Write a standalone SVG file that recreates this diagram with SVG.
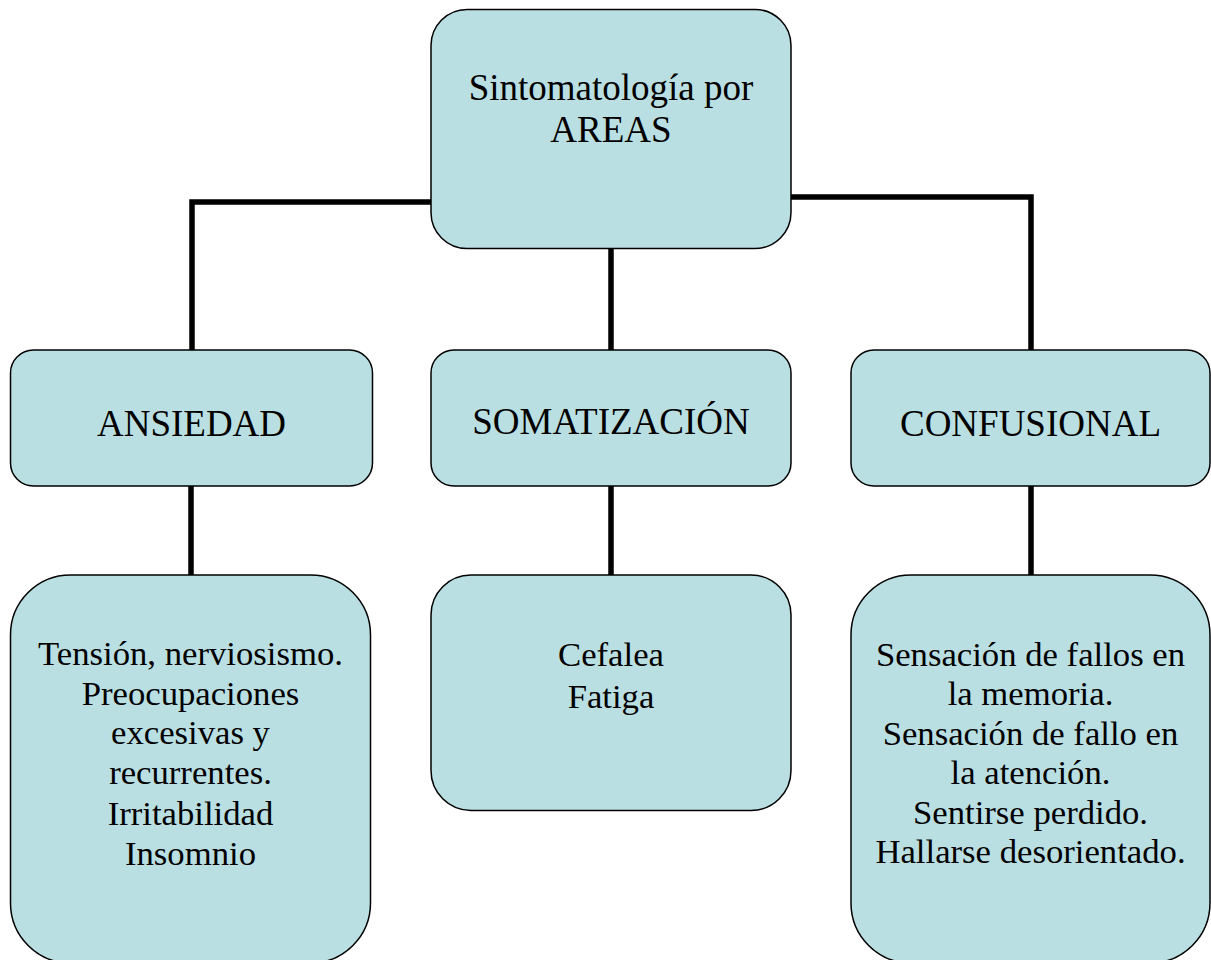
<svg xmlns="http://www.w3.org/2000/svg" width="1211" height="960" viewBox="0 0 1211 960">
<style>
.box{fill:#BADFE2;stroke:#000;stroke-width:1.5}
.conn{fill:none;stroke:#000;stroke-width:5.5;stroke-linejoin:miter;stroke-linecap:butt}
.t1{font-family:"Liberation Serif","Times New Roman",serif;font-size:37px;fill:#000;text-anchor:middle}
.t2{font-family:"Liberation Serif","Times New Roman",serif;font-size:34.7px;fill:#000;text-anchor:middle}
</style>
<rect width="1211" height="960" fill="#fff"/>
<g id="connectors">
<path class="conn" d="M431,202 H192 V350"/>
<path class="conn" d="M791,197 H1031 V350"/>
<path class="conn" d="M611,248 V350"/>
<path class="conn" d="M191,486 V575"/>
<path class="conn" d="M611,486 V575"/>
<path class="conn" d="M1031,486 V575"/>
</g>
<g id="root">
<rect class="box" x="431" y="9.5" width="360" height="239" rx="36" ry="36"/>
<text class="t1" x="611" y="100">Sintomatología por</text>
<text class="t1" x="611" y="142">AREAS</text>
</g>
<g id="ansiedad">
<rect class="box" x="10.5" y="350" width="362" height="136" rx="23" ry="23"/>
<text class="t1" x="191.5" y="436">ANSIEDAD</text>
</g>
<g id="somatizacion">
<rect class="box" x="431" y="350" width="360" height="136" rx="23" ry="23"/>
<text class="t1" x="611" y="434">SOMATIZACIÓN</text>
</g>
<g id="confusional">
<rect class="box" x="851" y="350" width="359" height="136" rx="23" ry="23"/>
<text class="t1" x="1030.5" y="436">CONFUSIONAL</text>
</g>
<g id="ansiedad-detalle">
<rect class="box" x="10.5" y="575" width="360" height="388" rx="60" ry="60"/>
<text class="t2" x="190.5" y="665">Tensión, nerviosismo.</text>
<text class="t2" x="190.5" y="704.5">Preocupaciones</text>
<text class="t2" x="190.5" y="744">excesivas y</text>
<text class="t2" x="190.5" y="784">recurrentes.</text>
<text class="t2" x="190.5" y="824.5">Irritabilidad</text>
<text class="t2" x="190.5" y="864.5">Insomnio</text>
</g>
<g id="somatizacion-detalle">
<rect class="box" x="431" y="575" width="360" height="235.5" rx="40" ry="40"/>
<text class="t2" x="611" y="666">Cefalea</text>
<text class="t2" x="611" y="708">Fatiga</text>
</g>
<g id="confusional-detalle">
<rect class="box" x="851" y="575" width="359" height="388" rx="60" ry="60"/>
<text class="t2" x="1030.5" y="666">Sensación de fallos en</text>
<text class="t2" x="1030.5" y="705">la memoria.</text>
<text class="t2" x="1030.5" y="745">Sensación de fallo en</text>
<text class="t2" x="1030.5" y="784">la atención.</text>
<text class="t2" x="1030.5" y="824">Sentirse perdido.</text>
<text class="t2" x="1030.5" y="863">Hallarse desorientado.</text>
</g>
</svg>
